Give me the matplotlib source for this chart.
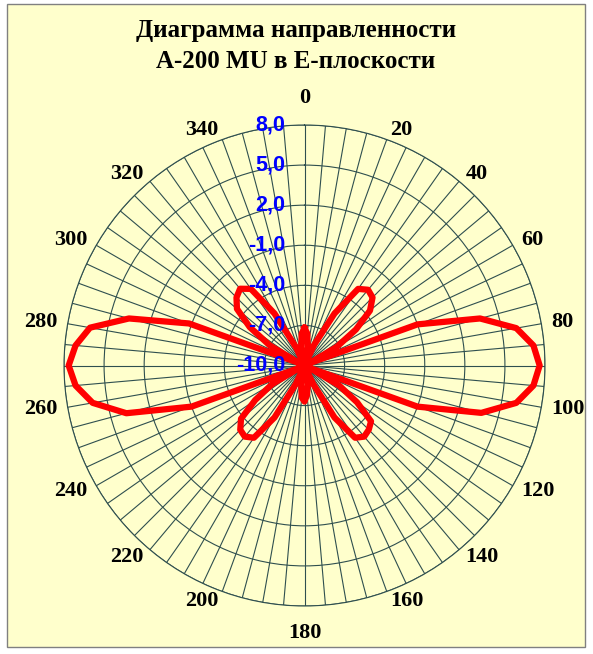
import numpy as np
import matplotlib.pyplot as plt
from matplotlib.patches import Rectangle
from matplotlib.transforms import ScaledTranslation

# Diagram data: gain (dB) every 5 degrees, clockwise from 0
angles_deg = list(range(0, 360, 5))
gain_db = [
	-7.2, -7.6, -8.6, -9.5, -10.0, -8.3, -5.5, -3.0, -2.6, -2.8,   # 0..45
	-3.6, -5.3, -7.2, -9.6, -1.0, 3.6, 6.1, 7.2, 7.6, 7.2,         # 50..95
	6.1, 3.7, -1.0, -9.6, -7.0, -5.2, -3.5, -3.2, -3.05, -3.4,     # 100..145
	-5.5, -8.5, -10.0, -9.5, -8.6, -7.8, -7.3, -7.6, -8.6, -9.5,   # 150..195
	-10.0, -8.5, -5.5, -3.4, -3.05, -3.2, -3.8, -5.5, -7.2, -9.6,  # 200..245
	-1.0, 3.8, 6.1, 7.2, 7.65, 7.2, 6.3, 3.6, -0.8, -9.6,          # 250..295
	-7.0, -5.0, -3.4, -2.8, -2.5, -3.0, -5.5, -8.5, -10.0, -9.5,   # 300..345
	-8.6, -7.6,                                                    # 350..355
]
r_ticks = [-10, -7, -4, -1, 2, 5, 8]
angle_labels = ["0", "20", "40", "60", "80", "100", "120", "140", "160",
	"180", "200", "220", "240", "260", "280", "300", "320", "340"]

BG = "#FFFFCC"
GRID = "#2F4F4F"
W, H = 593, 654


def main() -> None:
	fig = plt.figure(figsize=(W / 100, H / 100), dpi=100)
	fig.patch.set_facecolor("white")
	# chart area frame
	fig.add_artist(Rectangle((7 / W, 1 - 647 / H), (585 - 7) / W, (647 - 4) / H,
		transform=fig.transFigure, facecolor=BG, edgecolor="#808080", lw=1, zorder=0))

	cx, cy, rad = 304.5, 365.5, 240.5
	ax = fig.add_axes([(cx - rad) / W, (H - cy - rad) / H, 2 * rad / W, 2 * rad / H], projection="polar")
	ax.set_facecolor("none")
	ax.set_theta_zero_location("N")
	ax.set_theta_direction(-1)
	ax.set_ylim(-10, 8)

	ax.set_xticks(np.deg2rad(np.arange(0, 360, 5)))
	ax.set_xticklabels([])
	ax.set_yticks(r_ticks)
	ax.set_yticklabels([])
	ax.grid(True, color=GRID, lw=0.8)
	ax.spines["polar"].set_color(GRID)
	ax.spines["polar"].set_linewidth(0.8)

	theta = np.deg2rad(angles_deg + [angles_deg[0]])
	vals = gain_db + [gain_db[0]]
	ax.plot(theta, vals, color="#FF0000", lw=4.5, solid_joinstyle="round", zorder=3)

	# angle labels every 20 degrees, anchored just outside the circle (Excel style)
	for lab in angle_labels:
		a = int(lab)
		if a in (0, 180):
			ax.text(np.deg2rad(a), 9.3, lab, ha="center", va="bottom" if a == 0 else "top",
				family="Liberation Serif", fontweight="bold", fontsize=16, clip_on=False)
		else:
			ax.text(np.deg2rad(a), 8.75, lab, ha="left" if a < 180 else "right", va="center",
				family="Liberation Serif", fontweight="bold", fontsize=16, clip_on=False)

	# radial value labels, left of the 0 spoke
	shift = ScaledTranslation(-19 / 100, 0, fig.dpi_scale_trans)
	for rv in r_ticks:
		ax.text(0, rv, f"{rv:.1f}".replace(".", ","), transform=ax.transData + shift,
			ha="right", va="center", color="#0000FF", family="Liberation Sans",
			fontweight="bold", fontsize=15.5, zorder=5, clip_on=False)

	fig.text(296 / W, 1 - 30 / H, "Диаграмма направленности", ha="center", va="center",
		family="Liberation Serif", fontweight="bold", fontsize=18)
	fig.text(296 / W, 1 - 62 / H, "А-200 MU в Е-плоскости", ha="center", va="center",
		family="Liberation Serif", fontweight="bold", fontsize=18)

	fig.savefig("out.png", dpi=100, facecolor=fig.get_facecolor())
	plt.close(fig)


if __name__ == "__main__":
	main()
